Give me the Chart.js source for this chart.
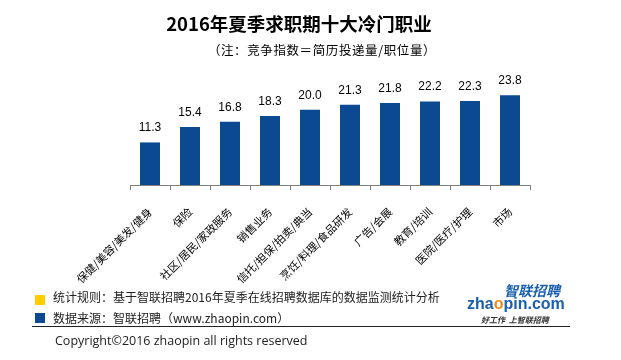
<!DOCTYPE html>
<html>
<head>
<meta charset="utf-8">
<script src="https://cdn.jsdelivr.net/npm/chart.js@4.4.1/dist/chart.umd.min.js"></script>
<style>
  html, body { margin: 0; padding: 0; background: #fff; }
  #wrap { position: relative; width: 621px; height: 360px; overflow: hidden; background: #fff; font-family: "Noto Sans CJK SC", "Noto Sans", sans-serif; }
  #c { position: absolute; left: 0; top: 0; }
  .t { position: absolute; white-space: nowrap; }
</style>
</head>
<body>
<div id="wrap">
  <canvas id="c" width="621" height="300"></canvas>
  <div class="t" id="title" style="left:0;width:598px;text-align:center;top:12px;font-size:18.5px;line-height:22px;font-weight:bold;color:#000;">2016年夏季求职期十大冷门职业</div>
  <div class="t" id="subtitle" style="left:0;width:644px;text-align:center;top:42px;font-size:12.5px;line-height:16px;letter-spacing:0.6px;color:#000;">（注：竞争指数＝简历投递量/职位量）</div>

  <div class="t" style="left:35px;top:295px;width:10px;height:10px;background:#ffcc00;"></div>
  <div class="t" style="left:53px;top:289px;font-size:12px;line-height:16px;color:#222;">统计规则：基于智联招聘2016年夏季在线招聘数据库的数据监测统计分析</div>
  <div class="t" style="left:35px;top:313px;width:10px;height:10px;background:#0b4a92;"></div>
  <div class="t" style="left:53px;top:310px;font-size:12px;line-height:16px;color:#222;">数据来源：智联招聘（www.zhaopin.com）</div>
  <div class="t" style="left:32px;top:326px;width:538px;height:1px;background:#222;"></div>
  <div class="t" style="left:55px;top:332px;font-family:'Open Sans','Noto Sans',sans-serif;font-size:12.5px;line-height:18px;color:#222;">Copyright©2016 zhaopin all rights reserved</div>

  <div class="t" style="left:504px;top:282px;font-size:14px;line-height:17px;font-weight:bold;font-style:italic;color:#1b5fae;">智联招聘</div>
  <div class="t" style="left:467px;top:296px;font-family:'Liberation Sans',Arial,sans-serif;font-size:16px;line-height:16px;font-weight:bold;color:#1b5fae;">zha<span style="color:#f08a1c;">o</span>pin.com</div>
  <div class="t" style="left:481px;top:315px;font-size:8px;line-height:9px;font-weight:bold;font-style:italic;color:#333;">好工作&nbsp;&nbsp;上智联招聘</div>
</div>
<script>
const categories = ["保健/美容/美发/健身", "保险", "社区/居民/家政服务", "销售业务", "信托/担保/拍卖/典当", "烹饪/料理/食品研发", "广告/会展", "教育/培训", "医院/医疗/护理", "市场"];
const values = [11.3, 15.4, 16.8, 18.3, 20.0, 21.3, 21.8, 22.2, 22.3, 23.8];

const valueLabels = {
  id: 'valueLabels',
  afterDatasetsDraw(chart) {
    const ctx = chart.ctx;
    const meta = chart.getDatasetMeta(0);
    ctx.save();
    ctx.font = '12px "Liberation Sans", Arial, sans-serif';
    ctx.fillStyle = '#000';
    ctx.textAlign = 'center';
    ctx.textBaseline = 'alphabetic';
    meta.data.forEach((bar, i) => {
      ctx.fillText(values[i].toFixed(1), bar.x, bar.y - 11);
    });
    ctx.restore();
  }
};

new Chart(document.getElementById('c'), {
  type: 'bar',
  data: {
    labels: categories,
    datasets: [{
      data: values,
      backgroundColor: '#0b4a92',
      borderWidth: 0,
      categoryPercentage: 1,
      barPercentage: 0.5
    }]
  },
  options: {
    responsive: false,
    devicePixelRatio: 1,
    animation: false,
    layout: { padding: { left: 130, right: 91, top: 72, bottom: 0 } },
    plugins: { legend: { display: false }, tooltip: { enabled: false }, title: { display: false } },
    scales: {
      y: { display: false, min: 0, max: 30 },
      x: {
        afterFit(axis) { axis.height = 115; },
        grid: { display: true, drawOnChartArea: false, drawTicks: true, tickLength: 5, color: '#808080', offset: true },
        border: { display: true, color: '#808080', width: 1 },
        ticks: {
          minRotation: 45, maxRotation: 45, autoSkip: false, padding: 15,
          color: '#000',
          font: { family: '"Noto Sans CJK SC", sans-serif', size: 11 }
        }
      }
    }
  },
  plugins: [valueLabels]
});
</script>
</body>
</html>
